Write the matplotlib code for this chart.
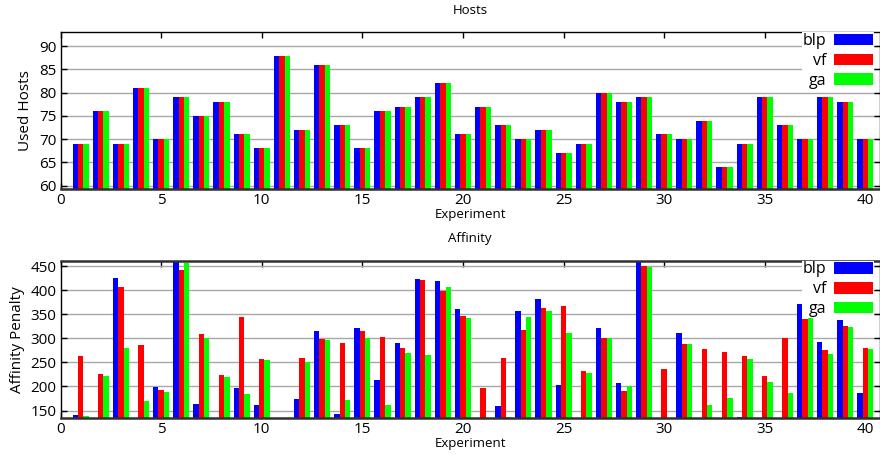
import numpy as np
import matplotlib
matplotlib.use("Agg")
import matplotlib.pyplot as plt

plt.rcParams['font.family'] = ['Open Sans', 'DejaVu Sans']

# experiment numbers 1..40
experiments = np.arange(1, 41)

# Hosts: all three methods use the same number of hosts
hosts_blp = [69, 76, 69, 81, 70, 79, 75, 78, 71, 68,
             88, 72, 86, 73, 68, 76, 77, 79, 82, 71,
             77, 73, 70, 72, 67, 69, 80, 78, 79, 71,
             70, 74, 64, 69, 79, 73, 70, 79, 78, 70]
hosts_vf = list(hosts_blp)
hosts_ga = list(hosts_blp)

# Affinity penalty (values below ~134 are under the visible range)
aff_blp = [141, 125, 426, 125, 198, 470, 164, 125, 196, 162,
           125, 174, 315, 142, 321, 214, 290, 424, 418, 361,
           125, 160, 357, 382, 203, 125, 321, 207, 470, 125,
           312, 125, 125, 136, 125, 125, 371, 292, 338, 187]
aff_vf = [263, 226, 407, 287, 192, 442, 309, 223, 345, 257,
          135, 260, 299, 290, 315, 303, 280, 421, 399, 347,
          197, 260, 317, 362, 366, 233, 300, 191, 451, 237,
          288, 277, 271, 263, 222, 301, 341, 275, 326, 280]
aff_ga = [139, 222, 280, 170, 189, 457, 301, 219, 185, 255,
          125, 250, 297, 171, 301, 161, 270, 266, 407, 343,
          125, 137, 344, 356, 312, 229, 300, 201, 447, 125,
          288, 162, 176, 257, 210, 186, 348, 268, 324, 278]

labels = ['blp', 'vf', 'ga']
colors = ['#0000ff', '#ff0000', '#00ff00']

fig = plt.figure(figsize=(8.8, 4.55), dpi=100)

left = 60.5 / 880
width = (879.5 - 60.5) / 880
ax1 = fig.add_axes([left, 1 - 189.3 / 455, width, (189.3 - 32.3) / 455])
ax2 = fig.add_axes([left, 1 - 418.3 / 455, width, (418.3 - 260.7) / 455])


def draw(ax, series, title, ylabel, ylim, yticks):
    w = 0.267
    for i, (vals, lab, col) in enumerate(zip(series, labels, colors)):
        ax.bar(experiments + (i - 1) * w, vals, width=w, color=col,
               label=lab, linewidth=0, zorder=2)
    ax.set_xlim(0, 40.7)
    ax.set_ylim(*ylim)
    ax.set_yticks(yticks)
    ax.set_xticks(range(0, 41, 5))
    ax.grid(axis='y', color='#a8a8a8', linewidth=1.0, zorder=0)
    ax.set_axisbelow(True)
    ax.tick_params(direction='in', top=True, right=True, length=4,
                   labelsize=11, pad=3, width=1)
    ax.set_title(title, fontsize=9.5, pad=13.5)
    ax.set_xlabel('Experiment', fontsize=9.5, labelpad=0)
    ax.set_ylabel(ylabel, fontsize=11, labelpad=4)
    for s in ax.spines.values():
        s.set_linewidth(1.0)
    ax.spines['bottom'].set_linewidth(1.8)
    ax.spines['bottom'].set_color('#303030')
    leg = ax.legend(loc='upper right', bbox_to_anchor=(1 - 6 / 819, 1.0),
                    borderaxespad=0, markerfirst=False, frameon=True,
                    framealpha=1, edgecolor='none', fancybox=False,
                    handlelength=2.45, handleheight=0.75, handletextpad=0.45,
                    labelspacing=0.24, borderpad=0.05, fontsize=11.5)
    leg.get_frame().set_linewidth(0)
    leg.set_zorder(5)
    for t in leg.get_texts():
        t.set_ha('right')


draw(ax1, [hosts_blp, hosts_vf, hosts_ga], 'Hosts', 'Used Hosts',
     (59.2, 93), range(60, 91, 5))
draw(ax2, [aff_blp, aff_vf, aff_ga], 'Affinity', 'Affinity Penalty',
     (134, 461), range(150, 451, 50))
ax2.spines['top'].set_linewidth(1.8)
ax2.spines['top'].set_color('#303030')

fig.savefig('out.png', dpi=100)
